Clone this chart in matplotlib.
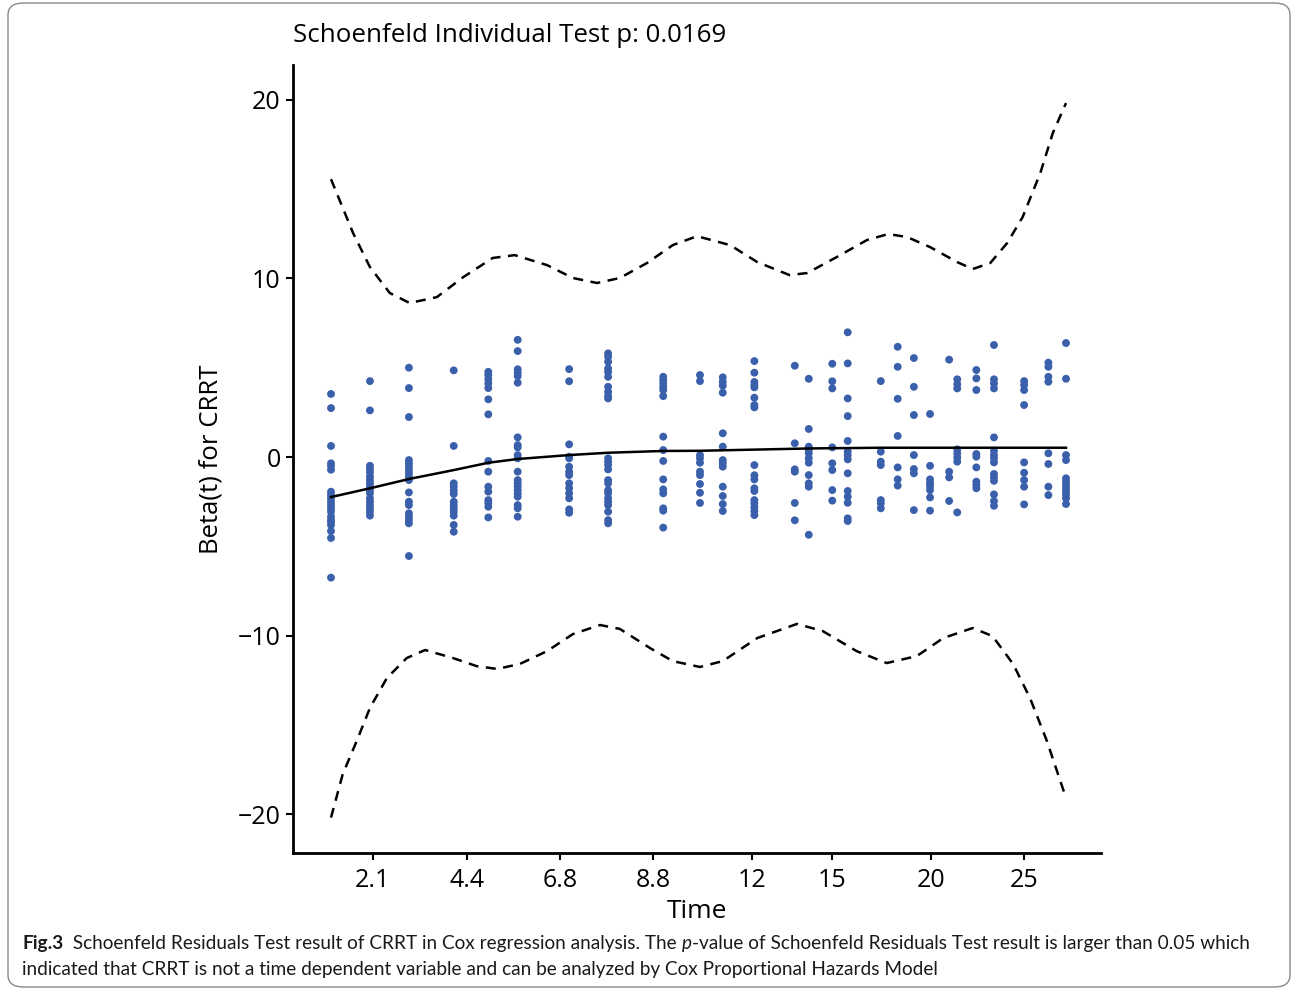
import numpy as np
import matplotlib.pyplot as plt
from matplotlib.patches import FancyBboxPatch

# transformed time (0 = first event, 1 = last event)
col_x = [0.000, 0.053, 0.106, 0.167, 0.214, 0.254, 0.324, 0.377, 0.452, 0.502,
         0.533, 0.576, 0.631, 0.650, 0.682, 0.703, 0.748, 0.771, 0.793, 0.815,
         0.841, 0.852, 0.878, 0.902, 0.943, 0.976, 1.000]

# scaled Schoenfeld residuals per event time
col_y = [
    [3.53, 2.74, 0.62, -0.35, -0.5, -0.71, -1.94, -2.13, -2.31, -2.5, -2.69, -2.87, -3.06, -3.34, -3.53, -3.62, -3.8, -4.14, -4.53, -6.75],
    [4.25, 2.61, -0.49, -0.67, -0.86, -1.1, -1.29, -1.47, -1.66, -1.85, -2.03, -2.31, -2.5, -2.69, -2.87, -3.06, -3.28],
    [5.0, 3.86, 2.24, -0.17, -0.35, -0.54, -0.73, -0.91, -1.1, -1.29, -1.98, -2.5, -2.69, -3.15, -3.34, -3.53, -3.71, -5.54],
    [4.85, 0.62, -1.47, -1.66, -1.88, -2.07, -2.5, -2.69, -2.87, -3.06, -3.28, -3.8, -4.18],
    [4.77, 4.59, 4.35, 4.12, 3.86, 3.23, 2.39, -0.22, -0.82, -1.66, -1.94, -2.41, -2.56, -2.78, -3.38],
    [6.56, 5.93, 4.91, 4.72, 4.53, 4.16, 1.1, 0.67, 0.54, 0.11, -0.07, -0.82, -1.29, -1.47, -1.66, -1.85, -2.03, -2.22, -2.69, -2.87, -3.34],
    [4.92, 4.24, 0.71, 0.02, -0.07, -0.54, -0.82, -1.01, -1.47, -1.75, -2.03, -2.31, -2.93, -3.12],
    [5.8, 5.61, 5.33, 4.96, 4.77, 4.49, 3.93, 3.65, 3.41, 3.28, -0.07, -0.26, -0.45, -0.69, -1.29, -1.47, -1.85, -2.03, -2.31, -2.5, -2.69, -3.06, -3.53, -3.71],
    [4.49, 4.31, 4.12, 3.93, 3.75, 3.41, 1.14, 0.39, -0.22, -1.25, -1.81, -2.03, -2.87, -3.0, -3.95],
    [4.59, 4.25, 0.11, -0.07, -0.32, -0.82, -1.01, -1.51, -2.0, -2.57],
    [4.46, 4.21, 3.99, 3.6, 1.33, 0.58, -0.17, -0.35, -0.54, -1.66, -2.18, -2.63, -3.02],
    [5.37, 4.72, 4.2, 4.03, 3.9, 3.32, 2.91, 2.78, -0.45, -1.02, -1.25, -1.75, -1.9, -2.41, -2.59, -2.82, -3.02, -3.25],
    [5.11, 0.77, -0.69, -0.82, -2.57, -3.54],
    [4.38, 1.57, 0.58, 0.39, 0.21, -0.07, -0.32, -1.01, -1.47, -1.66, -4.35],
    [5.22, 4.24, 3.84, 0.54, -0.35, -0.73, -1.85, -2.44],
    [6.98, 5.24, 3.28, 2.29, 0.9, 0.3, 0.11, -0.13, -0.91, -1.9, -2.22, -2.56, -3.43, -3.58],
    [4.25, 0.3, -0.26, -0.45, -2.41, -2.59, -2.87],
    [6.17, 5.05, 3.26, 1.18, -0.58, -1.25, -1.6],
    [5.54, 3.93, 2.35, 0.11, -0.67, -0.91, -2.97],
    [2.41, -0.49, -1.25, -1.44, -1.62, -1.85, -2.26, -3.0],
    [5.45, -0.82, -1.14, -2.46],
    [4.35, 4.08, 3.84, 0.43, 0.21, -0.02, -0.26, -3.1],
    [4.87, 4.4, 3.75, 0.17, 0.02, -0.58, -1.38, -1.57, -1.75],
    [6.27, 4.35, 4.12, 3.84, 1.1, 0.35, 0.11, -0.07, -0.3, -0.95, -1.14, -1.33, -2.09, -2.46, -2.73],
    [4.25, 4.03, 3.75, 2.91, -0.3, -0.88, -1.29, -1.66, -2.65],
    [5.28, 5.05, 4.49, 4.21, 0.21, -0.39, -1.66, -2.13],
    [6.38, 4.38, 0.11, -0.17, -1.19, -1.38, -1.57, -1.75, -1.94, -2.13, -2.31, -2.63],
]

# fitted beta(t)
fit_x = [0.000, 0.053, 0.106, 0.167, 0.214, 0.254, 0.324, 0.377, 0.452, 0.502, 0.650, 0.748, 1.000]
fit_y = [-2.24, -1.75, -1.23, -0.73, -0.32, -0.11, 0.11, 0.24, 0.34, 0.35, 0.48, 0.52, 0.52]

# confidence band
up_x = [0.000, 0.030, 0.053, 0.080, 0.107, 0.144, 0.180, 0.220, 0.250, 0.294, 0.329,
        0.362, 0.393, 0.430, 0.465, 0.498, 0.543, 0.580, 0.624, 0.648, 0.688, 0.729,
        0.758, 0.784, 0.815, 0.852, 0.873, 0.897, 0.920, 0.941, 0.965, 0.982, 1.000]
up_y = [15.55, 12.54, 10.63, 9.18, 8.62, 8.95, 10.07, 11.14, 11.3, 10.74, 10.02,
        9.74, 10.02, 10.86, 11.86, 12.36, 11.86, 10.91, 10.18, 10.3, 11.19, 12.14,
        12.48, 12.31, 11.75, 10.91, 10.52, 10.86, 11.98, 13.43, 15.89, 18.13, 19.81]
lo_x = [0.000, 0.016, 0.035, 0.053, 0.076, 0.103, 0.128, 0.166, 0.198, 0.226, 0.257,
        0.294, 0.329, 0.366, 0.393, 0.434, 0.465, 0.502, 0.533, 0.580, 0.634, 0.669,
        0.715, 0.756, 0.797, 0.833, 0.873, 0.900, 0.928, 0.951, 0.974, 1.000]
lo_y = [-20.18, -17.74, -15.89, -14.04, -12.37, -11.25, -10.8, -11.25, -11.7, -11.86, -11.58,
        -10.86, -9.91, -9.4, -9.62, -10.69, -11.42, -11.75, -11.42, -10.13, -9.34, -9.74,
        -10.86, -11.53, -11.14, -10.13, -9.57, -10.02, -11.58, -13.49, -15.89, -19.08]

tick_pos = [0.057, 0.185, 0.312, 0.438, 0.573, 0.682, 0.816, 0.943]
tick_lab = ['2.1', '4.4', '6.8', '8.8', '12', '15', '20', '25']

plt.rcParams['font.family'] = ['Open Sans', 'DejaVu Sans']

fig = plt.figure(figsize=(12.92, 9.93), dpi=100)
ax = fig.add_axes([293/1292, 1 - 853/993, (1101 - 293)/1292, (853 - 65)/993])

px, py = [], []
for x, ys in zip(col_x, col_y):
    px += [x] * len(ys)
    py += ys
ax.scatter(px, py, s=32, color='#3a5fab', edgecolors='none', zorder=3)

ax.plot(fit_x, fit_y, color='black', lw=1.8, zorder=4)
ax.plot(up_x, up_y, color='black', lw=1.8, dashes=(4, 3))
ax.plot(lo_x, lo_y, color='black', lw=1.8, dashes=(4, 3))

ax.set_xlim(-0.0517, 1.0476)
ax.set_ylim(-22.16, 21.94)
ax.set_xticks(tick_pos)
ax.set_xticklabels(tick_lab)
ax.set_yticks([-20, -10, 0, 10, 20])
ax.set_yticklabels(['\u221220', '\u221210', '0', '10', '20'])
for s in ['top', 'right']:
    ax.spines[s].set_visible(False)
for s in ['left', 'bottom']:
    ax.spines[s].set_linewidth(2)
ax.tick_params(length=5, width=1.5, labelsize=18, colors='black')
ax.tick_params(axis='x', pad=6)
ax.tick_params(axis='y', pad=4)
ax.set_xlabel('Time', fontsize=19, labelpad=4)
ax.set_ylabel('Beta(t) for CRRT', fontsize=18.5, labelpad=10)

fig.text(293/1292, 1 - 35/993, 'Schoenfeld Individual Test p: 0.0169',
         fontsize=18.6, ha='left', va='center')

# caption
fig.canvas.draw()
r = fig.canvas.get_renderer()
cap = dict(fontsize=13.7, color='#1a1a1a', va='baseline', family=['Lato', 'DejaVu Sans'])
x0 = 22 / 1292
line1 = [('Fig.3', 'bold', 'normal'),
         ('  Schoenfeld Residuals Test result of CRRT in Cox regression analysis. The ', 'normal', 'normal'),
         ('p', 'normal', 'italic'),
         ('-value of Schoenfeld Residuals Test result is larger than 0.05 which', 'normal', 'normal')]
x = x0
for txt, w, st in line1:
    t = fig.text(x, 1 - 949/993, txt, fontweight=w, fontstyle=st, **cap)
    bb = t.get_window_extent(renderer=r)
    x += bb.width / fig.bbox.width
fig.text(x0, 1 - 975/993,
         'indicated that CRRT is not a time dependent variable and can be analyzed by Cox Proportional Hazards Model',
         **cap)

fig.patches.append(FancyBboxPatch((8/1292, 6/993), 1282/1292, 984/993,
                                  boxstyle='round,pad=0,rounding_size=0.012',
                                  transform=fig.transFigure, fill=False,
                                  edgecolor='#888888', lw=1))

fig.savefig('out.png', dpi=100)
